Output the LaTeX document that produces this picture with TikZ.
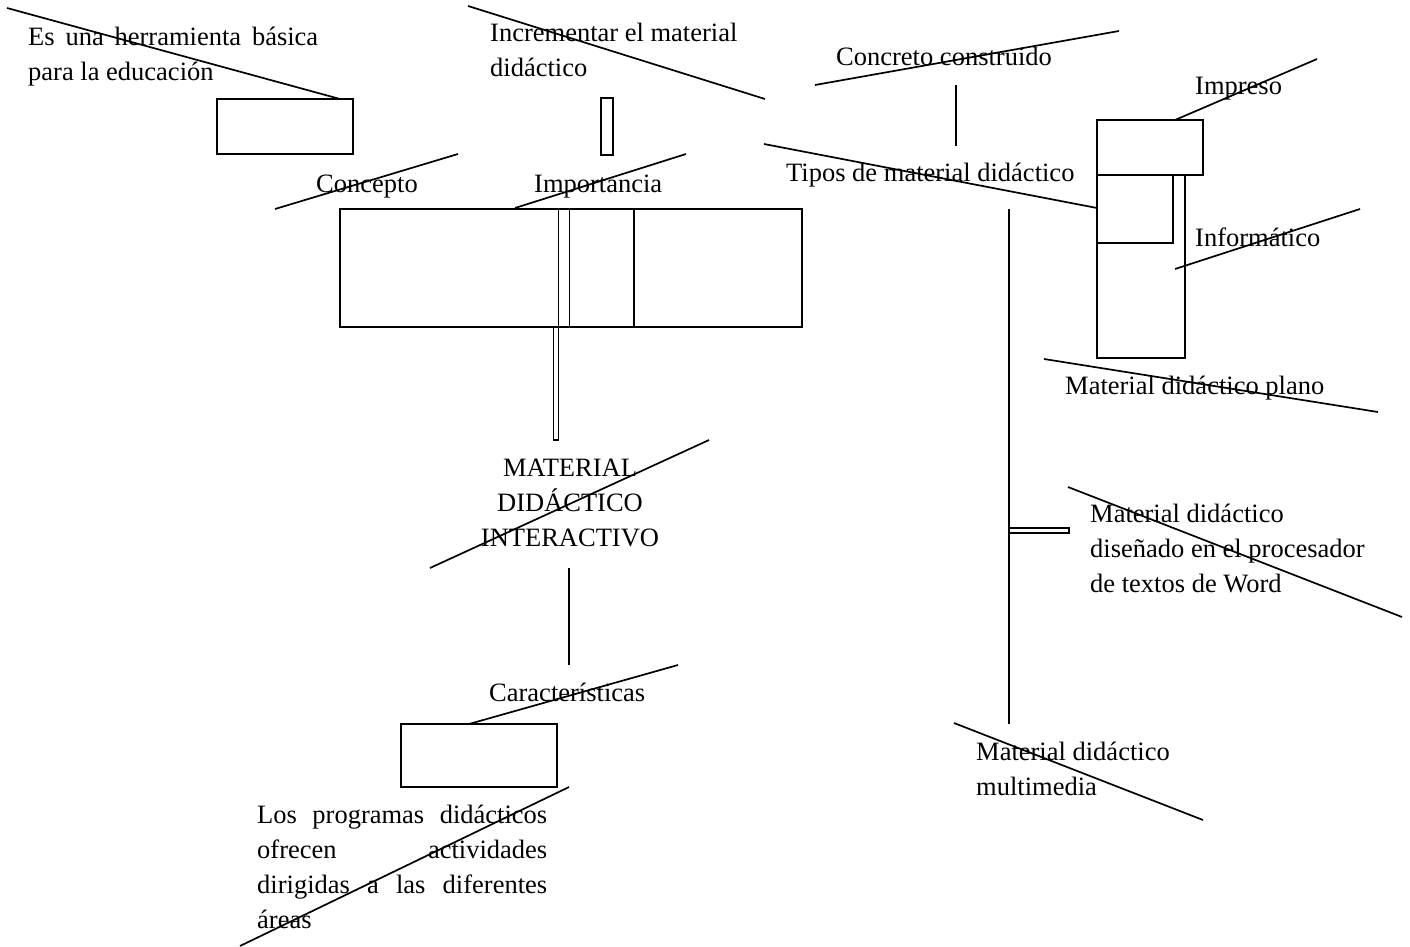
\documentclass[tikz,border=0pt]{standalone}
\usepackage{fontspec}
\setmainfont{Liberation Serif}
\begin{document}
\begin{tikzpicture}[x=1pt,y=-1pt,
  stroke/.style={line width=1.7pt},
  thin/.style={line width=1.2pt},
  lbl/.style={anchor=base west,inner sep=0pt,font=\fontsize{26.5}{35}\selectfont},
  lblc/.style={anchor=base,inner sep=0pt,font=\fontsize{26.5}{35}\selectfont}]
\useasboundingbox (0,0) rectangle (1410,947);

% ---------- text labels ----------
\node[lbl] (es) at (28,46) {\vtop{\hbox to 290pt{Es una herramienta básica}\hbox{para la educación}}};
\node[lbl] (incr) at (490,42) {\vtop{\hbox{Incrementar el material}\hbox{didáctico}}};
\node[lbl] (concepto) at (316,192) {Concepto};
\node[lbl] (importancia) at (534,192) {Importancia};
\node[lbl] (concreto) at (836,66) {Concreto construido};
\node[lbl] (tipos) at (786,181) {Tipos de material didáctico};
\node[lbl] (impreso) at (1195,95) {Impreso};
\node[lbl] (informatico) at (1195,246) {Informático};
\node[lbl] (plano) at (1065,394) {Material didáctico plano};
\node[lblc] (mdi) at (570,476) {\vtop{\halign{\hfil#\hfil\cr MATERIAL\cr DIDÁCTICO\cr INTERACTIVO\cr}}};
\node[lbl] (caract) at (489,701) {Características};
\node[lbl] (progs) at (257,823) {\vtop{\hbox to 290pt{Los programas didácticos}\hbox to 290pt{ofrecen actividades}\hbox to 290pt{dirigidas a las diferentes}\hbox{áreas}}};
\node[lbl] (word) at (1090,522) {\vtop{\hbox{Material didáctico}\hbox{diseñado en el procesador}\hbox{de textos de Word}}};
\node[lbl] (multi) at (976,760) {\vtop{\hbox{Material didáctico}\hbox{multimedia}}};

% ---------- boxes ----------
\draw[stroke] (217,99) rectangle (353,154);
\draw[stroke] (601,98) rectangle (613,155);
\draw[stroke] (340,209) rectangle (802,327);
\draw[stroke] (558.5,209) -- (558.5,327);
\draw[stroke] (569.5,209) -- (569.5,327);
\draw[stroke] (634,209) -- (634,327);
\draw[thin] (553.5,327) rectangle (558.5,440);
\draw[stroke] (401,724) rectangle (557,787);
\draw[stroke] (1097,120) rectangle (1203,175);
\draw[stroke] (1097,175) rectangle (1173,243);
\draw[stroke] (1097,175) rectangle (1185,358);
\draw[thin] (1009,528) rectangle (1069,533);

% ---------- line end points ----------
\coordinate (a1) at (7,8);       \coordinate (a2) at (340,99);
\coordinate (b1) at (468,6);     \coordinate (b2) at (765,99);
\coordinate (c1) at (275,209);   \coordinate (c2) at (458,154);
\coordinate (d1) at (515,208);   \coordinate (d2) at (686,154);
\coordinate (e1) at (764,144);   \coordinate (e2) at (1097,208);
\coordinate (f1) at (815,85);    \coordinate (f2) at (1119,31);
\coordinate (g1) at (956,85);    \coordinate (g2) at (956,146);
\coordinate (h1) at (1175,120);  \coordinate (h2) at (1317,59);
\coordinate (i1) at (1175,269);  \coordinate (i2) at (1360,209);
\coordinate (j1) at (1044,359);  \coordinate (j2) at (1378,412);
\coordinate (k1) at (1009,209);  \coordinate (k2) at (1009,724);
\coordinate (l1) at (430,568);   \coordinate (l2) at (709,440);
\coordinate (m1) at (569,568);   \coordinate (m2) at (569,665);
\coordinate (n1) at (469,724);   \coordinate (n2) at (678,665);
\coordinate (o1) at (240,946);   \coordinate (o2) at (569,787);
\coordinate (p1) at (1068,487);  \coordinate (p2) at (1402,617);
\coordinate (q1) at (954,723);   \coordinate (q2) at (1203,820);

% ---------- lines ----------
\foreach \s in {a,b,c,d,e,f,g,h,i,j,k,l,m,n,o,p,q}
  \draw[stroke] (\s1) -- (\s2);
\end{tikzpicture}
\end{document}
